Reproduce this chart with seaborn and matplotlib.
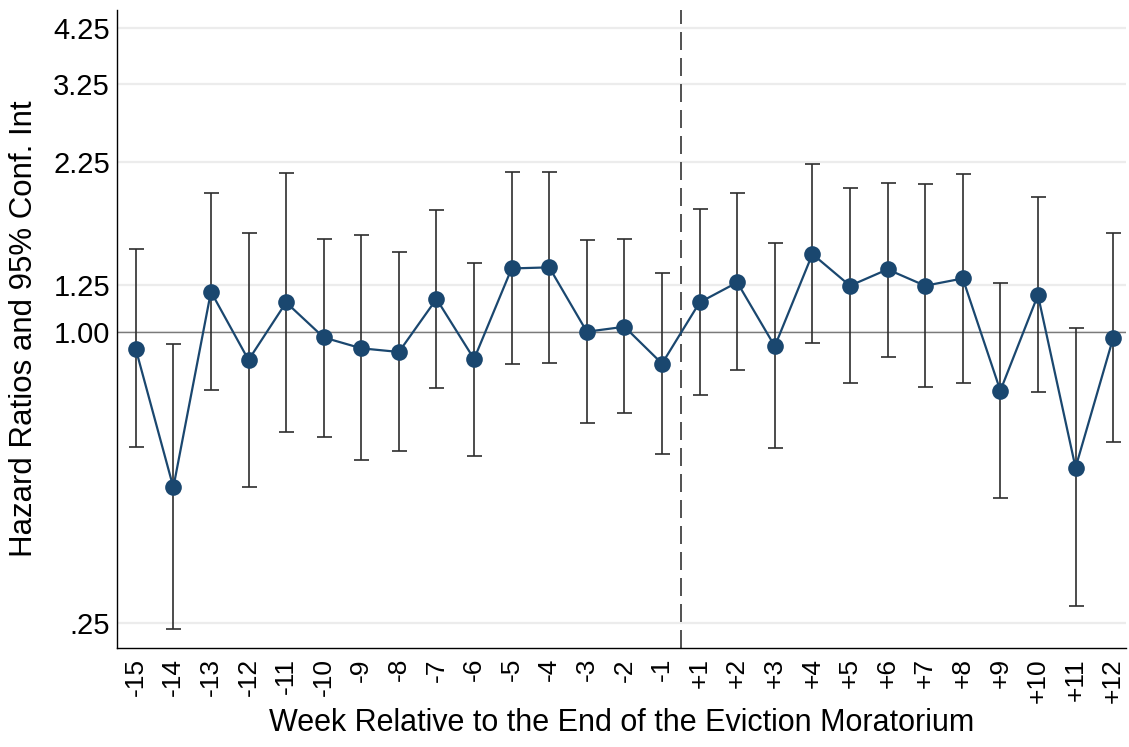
import pandas as pd
import seaborn as sns
import matplotlib.pyplot as plt
from matplotlib.ticker import NullLocator

# Hazard ratios and 95% CI by week relative to end of moratorium
weeks = ['-15', '-14', '-13', '-12', '-11', '-10', '-9', '-8', '-7', '-6', '-5', '-4', '-3', '-2', '-1',
         '+1', '+2', '+3', '+4', '+5', '+6', '+7', '+8', '+9', '+10', '+11', '+12']
hazard = [0.922, 0.477, 1.211, 0.875, 1.151, 0.974, 0.925, 0.909, 1.170, 0.879, 1.353, 1.360, 1.001, 1.025, 0.860,
          1.151, 1.266, 0.934, 1.449, 1.246, 1.347, 1.246, 1.290, 0.756, 1.192, 0.524, 0.971]
ci_low = [0.578, 0.243, 0.759, 0.479, 0.622, 0.607, 0.544, 0.566, 0.765, 0.555, 0.857, 0.864, 0.647, 0.679, 0.559,
          0.741, 0.834, 0.576, 0.947, 0.783, 0.889, 0.771, 0.783, 0.453, 0.750, 0.271, 0.593]
ci_high = [1.483, 0.943, 1.934, 1.603, 2.133, 1.558, 1.583, 1.460, 1.786, 1.386, 2.137, 2.143, 1.548, 1.554, 1.325,
           1.792, 1.934, 1.524, 2.230, 1.986, 2.037, 2.024, 2.122, 1.260, 1.897, 1.017, 1.599]
ytick_vals = [0.25, 1.00, 1.25, 2.25, 3.25, 4.25]
ytick_labels = ['.25', '1.00', '1.25', '2.25', '3.25', '4.25']

df = pd.DataFrame({'week': weeks, 'hr': hazard, 'lo': ci_low, 'hi': ci_high})
df['pos'] = range(len(df))

sns.set_style('white')
plt.rcParams['font.family'] = ['Liberation Sans', 'DejaVu Sans']
plt.rcParams['text.color'] = 'black'
plt.rcParams['axes.labelcolor'] = 'black'
plt.rcParams['xtick.color'] = 'black'
plt.rcParams['ytick.color'] = 'black'

navy = '#1a476f'

fig = plt.figure(figsize=(11.29, 7.47), dpi=100)
ax = fig.add_axes([0.1036, 0.1325, 0.894, 0.854])
ax.set_yscale('log')

# confidence intervals
ax.errorbar(df['pos'], df['hr'], yerr=[df['hr'] - df['lo'], df['hi'] - df['hr']],
            fmt='none', ecolor='#2e2e2e', elinewidth=1.2, capsize=5.4, capthick=1.2, zorder=3)

# point estimates
sns.lineplot(data=df, x='pos', y='hr', marker='o', markersize=12, color=navy, linewidth=1.6,
             markeredgewidth=0, errorbar=None, ax=ax, zorder=4)

# reference lines
ax.axhline(1.0, color='#7a7a7a', lw=1.0, zorder=2)
ax.axvline(14.5, color='#555555', lw=1.44, linestyle=(0, (9, 4)), zorder=2)

ax.set_xlim(-0.5, 26.35)
ax.set_ylim(0.222, 4.63)
ax.set_yticks(ytick_vals)
ax.set_yticklabels(ytick_labels)
ax.yaxis.set_minor_locator(NullLocator())
ax.set_xticks(df['pos'])
ax.set_xticklabels(df['week'], rotation=90)

ax.grid(axis='y', color='#ececec', lw=1.6)
ax.set_axisbelow(True)

for side in ['top', 'right']:
    ax.spines[side].set_visible(False)
for side in ['left', 'bottom']:
    ax.spines[side].set_color('black')
    ax.spines[side].set_linewidth(1.0)

ax.tick_params(axis='y', direction='in', length=8, width=1.0, color='#333333', labelsize=21, pad=5)
ax.tick_params(axis='x', direction='inout', length=8.5, width=1.0, color='#333333', labelsize=19, pad=3)

ax.set_xlabel('Week Relative to the End of the Eviction Moratorium', fontsize=22, labelpad=4)
ax.set_ylabel('Hazard Ratios and 95% Conf. Int', fontsize=22.5, labelpad=10)

plt.savefig('out.png', dpi=100)
